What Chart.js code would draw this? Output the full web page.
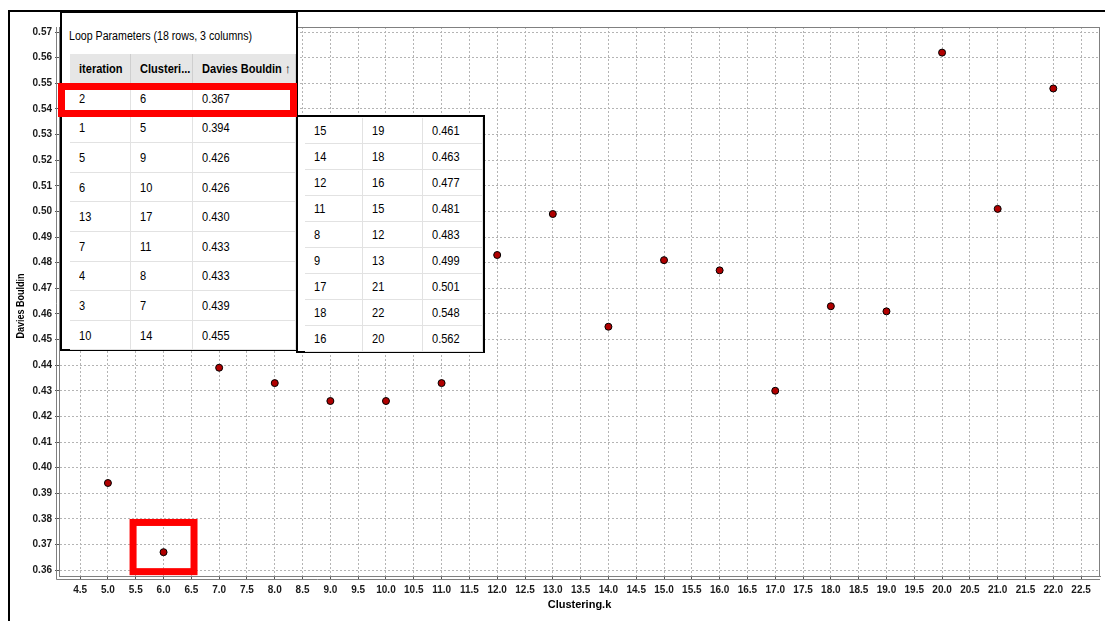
<!DOCTYPE html>
<html>
<head>
<meta charset="utf-8">
<script src="https://cdn.jsdelivr.net/npm/chart.js@4.4.1/dist/chart.umd.min.js"></script>
<style>
  html, body { margin: 0; padding: 0; background: #fff; }
  #wrap { position: relative; width: 1105px; height: 621px; overflow: hidden;
          font-family: "Liberation Sans", Arial, sans-serif; color: #000; }
  #frame { position: absolute; left: 8px; top: 10px; width: 1200px; height: 700px;
           border-left: 2px solid #000; border-top: 2px solid #000; }
  canvas { position: absolute; left: 0; top: 0; }
  .panel { position: absolute; background: #fff; border: 2px solid #000; box-sizing: border-box; }
  #t1 { left: 60px; top: 11px; width: 238px; height: 340px; }
  #t2 { left: 296px; top: 115px; width: 189px; height: 238px; }
  .title { position: absolute; left: 7px; top: 16px; font-size: 12.5px; line-height: 14px; white-space: nowrap; }
  .sq { display: inline-block; transform: scaleX(0.85); transform-origin: left center; white-space: nowrap; }
  .row { position: absolute; display: flex; }
  .cell { box-sizing: border-box; height: 100%; padding-left: 9px; font-size: 13px;
          display: flex; align-items: center; border-right: 1px solid #e2e2e2; border-bottom: 1px solid #e2e2e2;
          white-space: nowrap; overflow: hidden; }
  .head .cell { background: #e6e6e6; font-weight: bold; border-color: #cfcfcf; }
  #hl { position: absolute; left: 58px; top: 83px; width: 239px; height: 34px;
        border: 7px solid #ff0000; box-sizing: border-box; }
</style>
</head>
<body>
<div id="wrap">
  <div id="frame"></div>
  <canvas id="chart" width="1105" height="621"></canvas>
  <div class="panel" id="t1"><div class="title"><span class="sq">Loop Parameters (18 rows, 3 columns)</span></div></div>
  <div class="panel" id="t2"></div>
  <div id="hl"></div>
</div>
<script>
// scatter data: Clustering.k vs Davies Bouldin
const clusteringK = [5, 6, 7, 8, 9, 10, 11, 12, 13, 14, 15, 16, 17, 18, 19, 20, 21, 22];
const daviesBouldin = [0.394, 0.367, 0.439, 0.433, 0.426, 0.426, 0.433, 0.483, 0.499,
                       0.455, 0.481, 0.477, 0.430, 0.463, 0.461, 0.562, 0.501, 0.548];

// loop parameters table, sorted by Davies Bouldin
const tableHeaders = ['iteration', 'Clusteri...', 'Davies Bouldin \u2191'];
const tableIteration = [2, 1, 5, 6, 13, 7, 4, 3, 10, 15, 14, 12, 11, 8, 9, 17, 18, 16];
const tableClustering = [6, 5, 9, 10, 17, 11, 8, 7, 14, 19, 18, 16, 15, 12, 13, 21, 22, 20];

const yTickStep = 0.01;
const xTickStep = 0.5;

function dbFor(k) {
  return daviesBouldin[clusteringK.indexOf(k)].toFixed(3);
}

function addRow(panel, cells, top, left, height, widths, cls) {
  const row = document.createElement('div');
  row.className = 'row' + (cls ? ' ' + cls : '');
  row.style.top = top + 'px';
  row.style.left = left + 'px';
  row.style.height = height + 'px';
  cells.forEach((txt, i) => {
    const c = document.createElement('div');
    c.className = 'cell';
    c.style.width = widths[i] + 'px';
    const s = document.createElement('span');
    s.className = 'sq';
    s.textContent = txt;
    c.appendChild(s);
    row.appendChild(c);
  });
  panel.appendChild(row);
}

const t1 = document.getElementById('t1');
const t2 = document.getElementById('t2');
const w1 = [61, 62, 103];
const w2 = [58, 60, 60];
addRow(t1, tableHeaders, 41, 8, 30, w1, 'head');
tableIteration.forEach((it, i) => {
  const cells = [String(it), String(tableClustering[i]), dbFor(tableClustering[i])];
  if (i < 9) addRow(t1, cells, 71 + i * 29.6, 8, 29.6, w1);
  else addRow(t2, cells, 1 + (i - 9) * 26, 7, 26, w2);
});

const FONT = '"Liberation Sans", Arial, sans-serif';

const extras = {
  id: 'extras',
  afterDraw(chart) {
    const { ctx, chartArea: a, scales: { x, y } } = chart;
    ctx.save();
    // plot frame + offset axis lines
    ctx.strokeStyle = '#808080';
    ctx.lineWidth = 1;
    ctx.strokeRect(a.left + 0.5, a.top + 0.5, a.right - a.left - 1, a.bottom - a.top);
    ctx.beginPath();
    ctx.moveTo(a.left - 2.5, a.bottom + 3.5);
    ctx.lineTo(a.right, a.bottom + 3.5);
    ctx.moveTo(a.left - 2.5, a.top);
    ctx.lineTo(a.left - 2.5, a.bottom + 3.5);
    ctx.stroke();

    // red box around the best (lowest) point
    const best = Math.min(...daviesBouldin);
    const bestK = clusteringK[daviesBouldin.indexOf(best)];
    const x0 = x.getPixelForValue(bestK - 0.548);
    const x1 = x.getPixelForValue(bestK + 0.548);
    const y0 = y.getPixelForValue(best + 0.0116);
    const y1 = y.getPixelForValue(best - 0.0076);
    ctx.strokeStyle = '#ff0000';
    ctx.lineWidth = 7;
    ctx.strokeRect(x0, y0, x1 - x0, y1 - y0);

    // axis titles
    ctx.fillStyle = '#000';
    ctx.textAlign = 'center';
    ctx.textBaseline = 'middle';
    ctx.font = 'bold 11px ' + FONT;
    ctx.fillText('Clustering.k', (a.left + a.right) / 2, 605);
    ctx.translate(21, 306);
    ctx.rotate(-Math.PI / 2);
    ctx.scale(0.82, 1);
    ctx.font = 'bold 11px ' + FONT;
    ctx.fillText('Davies Bouldin', 0, 0);
    ctx.restore();
  }
};

const gridOpts = { color: '#b4b4b4', tickLength: 4, tickColor: '#555', tickBorderDash: [] };
const borderOpts = { display: true, color: '#808080', dash: [2, 2] };
const tickFont = { family: FONT, size: 10, weight: 'bold' };

new Chart(document.getElementById('chart'), {
  type: 'scatter',
  data: {
    datasets: [{
      data: clusteringK.map((k, i) => ({ x: k, y: daviesBouldin[i] })),
      backgroundColor: '#b00000',
      borderColor: '#000',
      borderWidth: 1,
      pointRadius: 3.5
    }]
  },
  options: {
    responsive: false,
    animation: false,
    layout: { padding: { top: 27, right: 3, left: 0, bottom: 0 } },
    plugins: { legend: { display: false }, tooltip: { enabled: false } },
    scales: {
      x: {
        type: 'linear', min: 4.12, max: 22.84,
        afterFit: s => { s.height = 45; },
        grid: gridOpts, border: borderOpts,
        ticks: { stepSize: xTickStep, includeBounds: false, autoSkip: false, maxRotation: 0,
                 padding: 4, color: '#1a1a1a', font: tickFont, callback: v => v.toFixed(1) }
      },
      y: {
        type: 'linear', min: 0.3577, max: 0.572,
        afterFit: s => { s.width = 59; },
        grid: gridOpts, border: borderOpts,
        ticks: { stepSize: yTickStep, includeBounds: false, autoSkip: false,
                 padding: 3, color: '#1a1a1a', font: tickFont, callback: v => v.toFixed(2) }
      }
    }
  },
  plugins: [extras]
});
</script>
</body>
</html>
